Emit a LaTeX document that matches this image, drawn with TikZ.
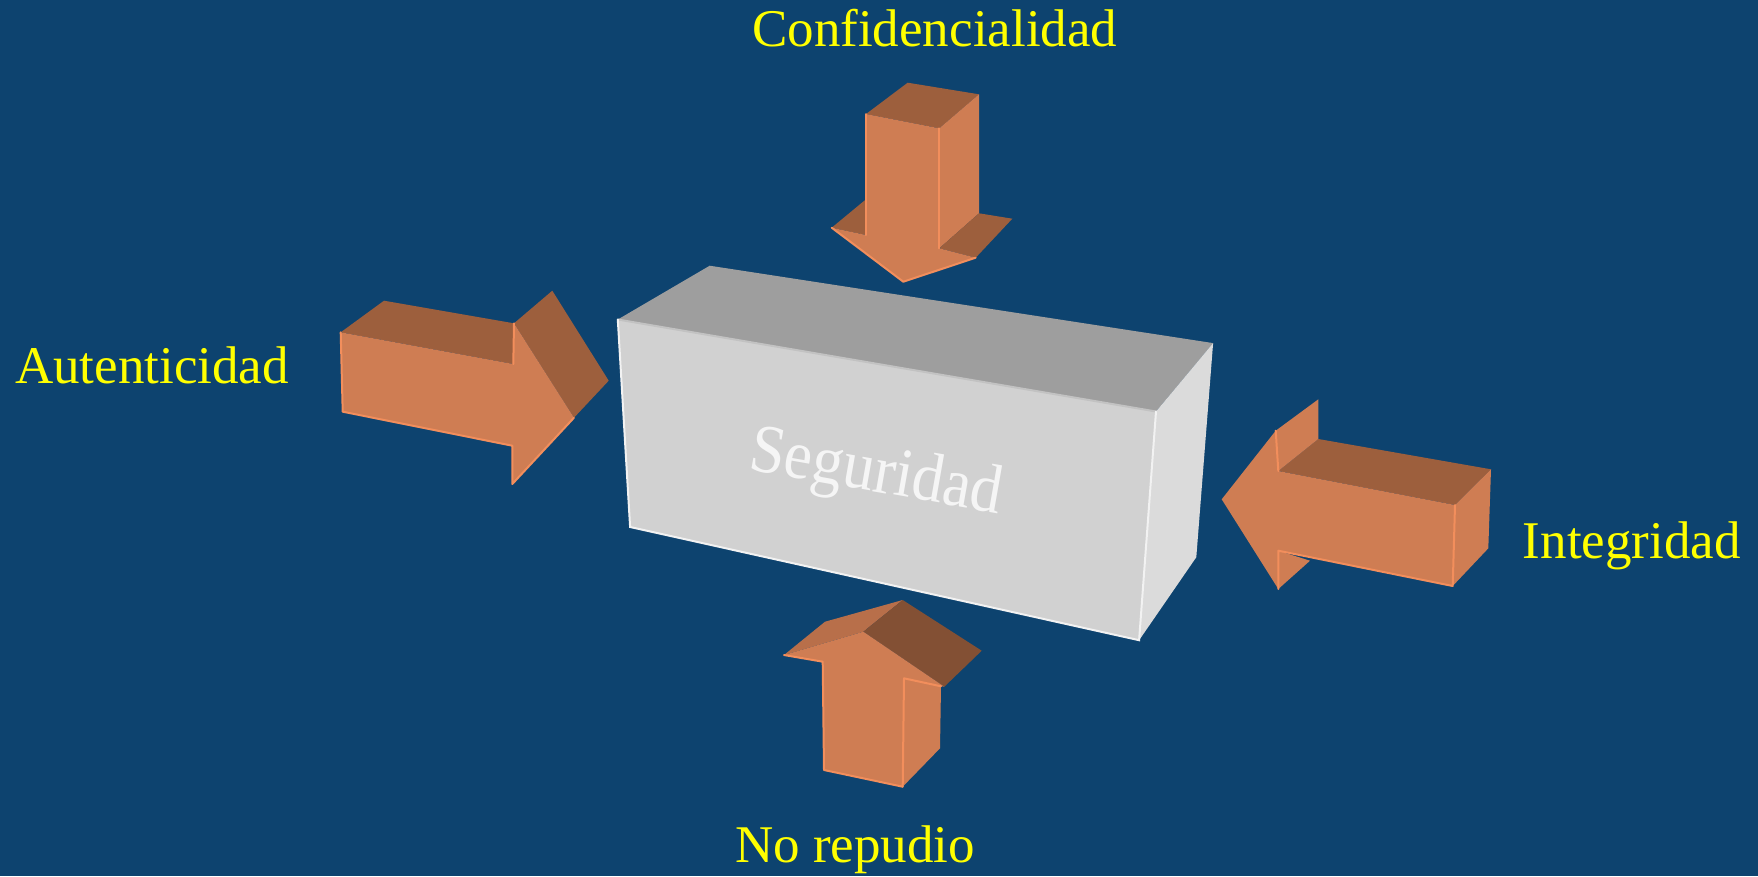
\documentclass[tikz,border=0pt]{standalone}
\usepackage{fontspec}
\setmainfont{Liberation Serif}

\definecolor{fondo}{RGB}{13,67,111}
\definecolor{naranja}{RGB}{207,125,83}
\definecolor{marron}{RGB}{157,95,61}
\definecolor{marronmedio}{RGB}{184,111,74}
\definecolor{marronoscuro}{RGB}{131,80,52}
\definecolor{brillo}{RGB}{242,142,92}
\definecolor{amarillo}{RGB}{255,255,0}

\begin{document}
\begin{tikzpicture}[
        x=1pt, y=-1pt,
        face/.style={fill=naranja},
        darkface/.style={fill=marron},
        edge/.style={draw=brillo, line width=2pt, line cap=round, line join=round},
        boxedge/.style={line width=2pt, line cap=round},
        etiqueta/.style={text=amarillo, font=\fontsize{53}{60}\selectfont, anchor=base west, inner sep=0pt}
    ]

    % Background
    \fill[fondo] (0,0) rectangle (1758,876);
    \useasboundingbox (0,0) rectangle (1758,876);

    % Box
    \fill[black!38] (709.7,265.7) -- (1213.1,343.1) -- (1156,411.5) -- (617.8,319.5) -- cycle;
    \fill[black!18] (617.8,319.5) -- (1156,411.5) -- (1139.1,640.2) -- (630.1,527) -- cycle;
    \fill[black!14] (1156,411.5) -- (1213.1,343.1) -- (1196.3,557.2) -- (1139.1,640.2) -- cycle;
    \draw[boxedge, black!24] (617.8,319.5) -- (1156,411.5);
    \draw[boxedge, black!5] (617.8,319.5) -- (630.1,527) -- (1139.1,640.2) -- (1156,411.5);
    \node (seg) at (876,475) [rotate=-10, yscale=1.1, text=black!4, font=\fontsize{63}{70}\selectfont] {Seguridad};

    % Top arrow
    \fill[darkface] (866,114) -- (907.7,82.7) -- (979,94.3) -- (939.3,128.3) -- cycle;
    \fill[face] (939.3,128.3) -- (979,94.3) -- (979,213.3) -- (939.3,248.3) -- cycle;
    \fill[darkface] (939.3,248.3) -- (979,213.3) -- (1012.3,218.7) -- (975.7,257.7) -- cycle;
    \fill[darkface] (831.7,227.7) -- (866,199.3) -- (866,235) -- cycle;
    \fill[face] (866,114) -- (939.3,128.3) -- (939.3,248.3) -- (975.7,257.7) -- (903.3,281.7)
        -- (831.7,227.7) -- (866,235) -- cycle;
    \draw[edge] (866,114) -- (866,235);
    \draw[edge] (939.3,128.3) -- (939.3,248.3);
    \draw[edge] (831.7,227.7) -- (903.3,281.7) -- (975.7,257.7);

    % Left arrow
    \fill[darkface] (340.7,332.3) -- (384,300.7) -- (514,323.3) -- (513.3,364) -- cycle;
    \fill[darkface] (514,323.3) -- (552.3,290.7) -- (608.7,380.7) -- (574,417.7) -- cycle;
    \fill[face] (340.7,332.3) -- (513.3,364) -- (514,323.3) -- (574,417.7) -- (512.3,484)
        -- (512.3,445.7) -- (342.7,411.7) -- cycle;
    \draw[edge] (340.7,332.3) -- (342.7,411.7) -- (512.3,445.7) -- (512.3,484) -- (574,417.7);
    \draw[edge] (514,323.3) -- (513.3,364);

    % Right arrow
    \fill[darkface] (1318.3,439) -- (1491,469.3) -- (1455,505) -- (1278.3,471) -- cycle;
    \fill[face] (1275.7,430.7) -- (1318.3,399.3) -- (1318.3,439) -- (1278.3,471) -- cycle;
    \fill[face] (1455,505) -- (1491,469.3) -- (1488.3,548.3) -- (1452.7,586) -- cycle;
    \fill[face] (1278.3,550.7) -- (1310,560.7) -- (1278.3,589) -- cycle;
    \fill[face] (1221.7,499.3) -- (1275.7,430.7) -- (1278.3,471) -- (1455,505) -- (1452.7,586)
        -- (1278.3,550.7) -- (1278.3,589) -- cycle;
    \draw[edge] (1275.7,430.7) -- (1278.3,471);
    \draw[edge] (1278.3,589) -- (1278.3,550.7) -- (1452.7,586) -- (1455,505);

    % Bottom arrow
    \fill[marronmedio] (784,655) -- (825,621.7) -- (902.7,600) -- (863.3,631.7) -- cycle;
    \fill[marronoscuro] (863.3,631.7) -- (902.7,600) -- (981.7,650.7) -- (944.3,686.7) -- cycle;
    \fill[face] (904,678.3) -- (941,686.3) -- (940,748.3) -- (902.7,786.7) -- cycle;
    \fill[face] (784,655) -- (863.3,631.7) -- (944.3,686.7) -- (904,678.3) -- (902.7,786.7)
        -- (824,770) -- (822.7,661.7) -- cycle;
    \draw[edge] (784,655) -- (822.7,661.7) -- (824,770) -- (902.7,786.7);
    \draw[edge] (902.7,786.7) -- (904,678.3) -- (941,686.3);

    % Labels
    \node (conf) at (752,46.7) [etiqueta] {Confidencialidad};
    \node (aut) at (15,383) [etiqueta] {Autenticidad};
    \node (integ) at (1522.7,558.3) [etiqueta] {Integridad};
    \node (norep) at (735,862.7) [etiqueta] {No repudio};

\end{tikzpicture}
\end{document}
